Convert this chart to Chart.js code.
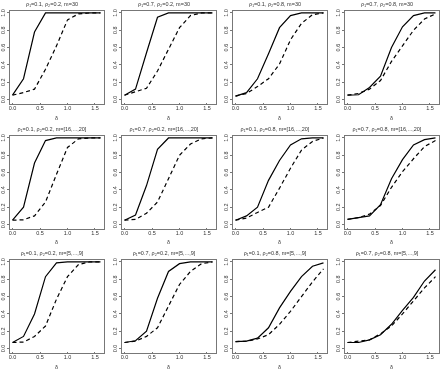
<!DOCTYPE html>
<html><head><meta charset="utf-8">
<script src="https://cdn.jsdelivr.net/npm/chart.js@4.4.1/dist/chart.umd.min.js"></script>
<style>
html,body{margin:0;padding:0;background:#fff;width:446px;height:374px;overflow:hidden}
.p{position:absolute}
</style></head><body>
<script>
const deltas = [0, 0.2, 0.4, 0.6, 0.8, 1.0, 1.2, 1.4, 1.6];
const xTicks = [0, 0.5, 1.0, 1.5];
const yTicks = [0, 0.2, 0.4, 0.6, 0.8, 1.0];
const xLabel = "δ";
const titles = [
  "ρ₁=0.1, ρ₂=0.2, m=30", "ρ₁=0.7, ρ₂=0.2, m=30", "ρ₁=0.1, ρ₂=0.8, m=30", "ρ₁=0.7, ρ₂=0.8, m=30",
  "ρ₁=0.1, ρ₂=0.2, m=[16,...,20]", "ρ₁=0.7, ρ₂=0.2, m=[16,...,20]", "ρ₁=0.1, ρ₂=0.8, m=[16,...,20]", "ρ₁=0.7, ρ₂=0.8, m=[16,...,20]",
  "ρ₁=0.1, ρ₂=0.2, m=[5,...,9]", "ρ₁=0.7, ρ₂=0.2, m=[5,...,9]", "ρ₁=0.1, ρ₂=0.8, m=[5,...,9]", "ρ₁=0.7, ρ₂=0.8, m=[5,...,9]"
];
const solid1  = [0.05, 0.24, 0.78, 1.0, 1.0, 1.0, 1.0, 1.0, 1.0];
const dashed1 = [0.05, 0.08, 0.12, 0.35, 0.62, 0.92, 0.99, 1.0, 1.0];
const solid2  = [0.05, 0.12, 0.54, 0.95, 1.0, 1.0, 1.0, 1.0, 1.0];
const dashed2 = [0.05, 0.09, 0.13, 0.33, 0.58, 0.83, 0.97, 1.0, 1.0];
const solid3  = [0.04, 0.08, 0.24, 0.53, 0.83, 0.97, 1.0, 1.0, 1.0];
const dashed3 = [0.04, 0.07, 0.15, 0.24, 0.41, 0.69, 0.88, 0.98, 1.0];
const solid4  = [0.05, 0.055, 0.14, 0.27, 0.60, 0.84, 0.97, 1.0, 1.0];
const dashed4 = [0.05, 0.07, 0.12, 0.22, 0.44, 0.62, 0.80, 0.93, 0.99];
const solid5  = [0.05, 0.20, 0.71, 0.97, 1.0, 1.0, 1.0, 1.0, 1.0];
const dashed5 = [0.05, 0.055, 0.10, 0.26, 0.58, 0.89, 0.99, 1.0, 1.0];
const solid6  = [0.05, 0.11, 0.45, 0.87, 1.0, 1.0, 1.0, 1.0, 1.0];
const dashed6 = [0.05, 0.06, 0.13, 0.26, 0.53, 0.80, 0.93, 0.99, 1.0];
const solid7  = [0.05, 0.10, 0.20, 0.51, 0.74, 0.92, 0.99, 1.0, 1.0];
const dashed7 = [0.05, 0.075, 0.14, 0.20, 0.42, 0.65, 0.86, 0.96, 1.0];
const solid8  = [0.06, 0.08, 0.10, 0.23, 0.53, 0.75, 0.92, 0.98, 1.0];
const dashed8 = [0.06, 0.08, 0.12, 0.22, 0.43, 0.61, 0.76, 0.90, 0.97];
const solid9  = [0.07, 0.14, 0.40, 0.83, 0.99, 1.0, 1.0, 1.0, 1.0];
const dashed9 = [0.07, 0.075, 0.14, 0.26, 0.57, 0.83, 0.97, 1.0, 1.0];
const solid10  = [0.07, 0.09, 0.20, 0.58, 0.89, 0.98, 1.0, 1.0, 1.0];
const dashed10 = [0.07, 0.085, 0.14, 0.24, 0.49, 0.74, 0.89, 0.98, 1.0];
const solid11  = [0.08, 0.085, 0.12, 0.24, 0.47, 0.66, 0.83, 0.95, 0.99];
const dashed11 = [0.08, 0.085, 0.11, 0.16, 0.28, 0.43, 0.60, 0.77, 0.92];
const solid12  = [0.07, 0.07, 0.10, 0.16, 0.28, 0.44, 0.59, 0.78, 0.91];
const dashed12 = [0.07, 0.085, 0.10, 0.17, 0.26, 0.40, 0.55, 0.70, 0.83];

const solidSeries = [solid1, solid2, solid3, solid4, solid5, solid6, solid7, solid8, solid9, solid10, solid11, solid12];
const dashedSeries = [dashed1, dashed2, dashed3, dashed4, dashed5, dashed6, dashed7, dashed8, dashed9, dashed10, dashed11, dashed12];

const FONT = "'Liberation Sans', Arial, 'DejaVu Sans', sans-serif";
const AXC = '#777';
const TXT = '#333';
const W = 446, H = 374, COLS = 4, ROWS = 3;

const boxPlugin = {
  id: 'box',
  afterDatasetsDraw(chart) {
    const a = chart.chartArea, ctx = chart.ctx;
    ctx.save();
    ctx.strokeStyle = AXC;
    ctx.lineWidth = 1;
    ctx.strokeRect(Math.round(a.left) + 0.5, Math.round(a.top) + 0.5, Math.round(a.right - a.left), Math.round(a.bottom - a.top));
    ctx.restore();
  }
};

for (let i = 0; i < 12; i++) {
  const r = Math.floor(i / COLS), c = i % COLS;
  const left = Math.round(c * W / COLS), top = Math.round(r * H / ROWS);
  const w = Math.round((c + 1) * W / COLS) - left, h = Math.round((r + 1) * H / ROWS) - top;
  const div = document.createElement('div');
  div.className = 'p';
  div.style.left = left + 'px'; div.style.top = top + 'px';
  div.style.width = w + 'px'; div.style.height = h + 'px';
  const cv = document.createElement('canvas');
  div.appendChild(cv);
  document.body.appendChild(div);
  const boxRight = 104, boxBottom = 103;
  new Chart(cv, {
    type: 'line',
    data: {
      datasets: [
        { data: deltas.map((x, k) => ({ x, y: solidSeries[i][k] })), borderColor: '#000', borderWidth: 1.2, pointRadius: 0, tension: 0, fill: false },
        { data: deltas.map((x, k) => ({ x, y: dashedSeries[i][k] })), borderColor: '#000', borderWidth: 1.2, borderDash: [4, 3], pointRadius: 0, tension: 0, fill: false }
      ]
    },
    options: {
      responsive: true, maintainAspectRatio: false, animation: false, devicePixelRatio: 1,
      layout: { padding: { left: 0, right: w - boxRight, top: 0, bottom: 0 } },
      plugins: {
        legend: { display: false }, tooltip: { enabled: false },
        title: { display: true, text: titles[i], color: TXT, font: { family: FONT, size: 5.5, weight: 'normal' }, padding: { top: 1.2, bottom: 1.7 } }
      },
      scales: {
        x: {
          type: 'linear', min: -0.064, max: 1.664,
          afterBuildTicks: s => { s.ticks = xTicks.map(v => ({ value: v })); },
          afterFit: s => { s.height = h - boxBottom; },
          ticks: { autoSkip: false, maxRotation: 0, padding: 0, color: TXT, font: { family: FONT, size: 5.5 }, callback: v => Number(v).toFixed(1) },
          grid: { drawOnChartArea: false, drawTicks: true, tickLength: 2, color: AXC },
          border: { display: false },
          title: { display: true, text: xLabel, color: TXT, font: { family: FONT, size: 5.5 }, padding: { top: 0, bottom: 3.5 } }
        },
        y: {
          type: 'linear', min: -0.04, max: 1.04,
          afterBuildTicks: s => { s.ticks = yTicks.map(v => ({ value: v })); },
          afterFit: s => { s.width = 9; },
          ticks: { autoSkip: false, minRotation: 90, maxRotation: 90, crossAlign: 'center', padding: 0, color: TXT, font: { family: FONT, size: 5.5 }, callback: v => Number(v).toFixed(1) },
          grid: { drawOnChartArea: false, drawTicks: true, tickLength: 2, color: AXC },
          border: { display: false }
        }
      }
    },
    plugins: [boxPlugin]
  });
}
</script>
</body></html>
